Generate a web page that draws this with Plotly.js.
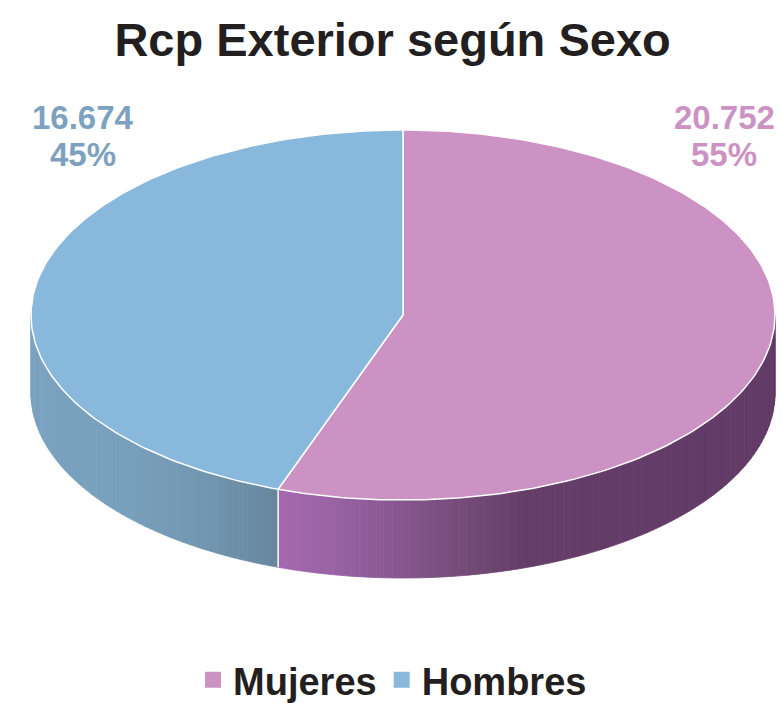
<!DOCTYPE html>
<html>
<head>
<meta charset="utf-8">
<script src="https://cdn.plot.ly/plotly-3.0.1.min.js"></script>
<style>html,body{margin:0;padding:0;background:#fff;}#chart{width:782px;height:703px;}</style>
</head>
<body>
<div id="chart"></div>
<script>
// ---- data ----
const categories = ['Mujeres', 'Hombres'];
const values = [20752, 16674];
const chartTitle = 'Rcp Exterior según Sexo';

// ---- style ----
const topColors = ['#CB92C3', '#88B9DD'];
const labelColors = ['#CB92C3', '#7DA2BF'];
const sideStops = [
  [[0, '#A568AF'], [0.1, '#9A63A5'], [0.25, '#86568E'], [0.38, '#744A77'], [0.5, '#653D69'], [1, '#623A66']],
  [[0, '#7AA2BF'], [0.4, '#789FBB'], [0.7, '#7297B0'], [1, '#66869D']]
];
const FONT = 'Liberation Sans, Arial, Helvetica, sans-serif';
const W = 782, H = 703;
const cx = 403, cy = 315, rx = 372, ry = 185, depth = 78;

function fmt(v) { return String(v).replace(/\B(?=(\d{3})+(?!\d))/g, '.'); }
function hex2rgb(h) { return [1, 3, 5].map(i => parseInt(h.substr(i, 2), 16)); }
function interp(stops, t) {
  for (let i = 0; i < stops.length - 1; i++) {
    const [t0, c0] = stops[i], [t1, c1] = stops[i + 1];
    if (t <= t1 || i === stops.length - 2) {
      const f = Math.max(0, Math.min(1, (t - t0) / (t1 - t0)));
      const a = hex2rgb(c0), b = hex2rgb(c1);
      const c = a.map((v, k) => Math.round(v + (b[k] - v) * f));
      return 'rgb(' + c.join(',') + ')';
    }
  }
}
const px = a => cx + rx * Math.sin(a);
const py = a => cy - ry * Math.cos(a);

const total = values.reduce((s, v) => s + v, 0);
let acc = 0;
const slices = values.map(v => { const a0 = acc; acc += v / total * 2 * Math.PI; return [a0, acc]; });

const traces = [];
const baseTrace = { type: 'scatter', mode: 'lines', fill: 'toself', showlegend: false, hoverinfo: 'skip' };

// side faces (front half only)
slices.forEach(([a0, a1], i) => {
  const s0 = Math.max(a0, Math.PI / 2), s1 = Math.min(a1, 3 * Math.PI / 2);
  if (s1 <= s0) return;
  const n = Math.max(4, Math.round((s1 - s0) / Math.PI * 140));
  const xA = Math.min(px(s0), px(s1)), xB = Math.max(px(s0), px(s1));
  for (let k = 0; k < n; k++) {
    const t1 = s0 + (s1 - s0) * k / n, t2 = s0 + (s1 - s0) * (k + 1) / n;
    const xm = (px(t1) + px(t2)) / 2;
    const f = (xm - xA) / (xB - xA);
    const col = interp(sideStops[i], f);
    traces.push(Object.assign({}, baseTrace, {
      x: [px(t1), px(t2), px(t2), px(t1), px(t1)],
      y: [py(t1), py(t2), py(t2) + depth, py(t1) + depth, py(t1)],
      fillcolor: col, line: { color: col, width: 0.8 }
    }));
  }
});
// white vertical seam on the side at slice boundaries
slices.forEach(([a0]) => {
  if (a0 > Math.PI / 2 && a0 < 3 * Math.PI / 2) {
    traces.push({ type: 'scatter', mode: 'lines', showlegend: false, hoverinfo: 'skip',
      x: [px(a0), px(a0)], y: [py(a0), py(a0) + depth], line: { color: '#ffffff', width: 1.5 } });
  }
});
// top faces
slices.forEach(([a0, a1], i) => {
  const n = Math.max(8, Math.round((a1 - a0) / (2 * Math.PI) * 360));
  const xs = [cx], ys = [cy];
  for (let k = 0; k <= n; k++) { const t = a0 + (a1 - a0) * k / n; xs.push(px(t)); ys.push(py(t)); }
  xs.push(cx); ys.push(cy);
  traces.push(Object.assign({}, baseTrace, {
    x: xs, y: ys, fillcolor: topColors[i], line: { color: '#ffffff', width: 1.5 }
  }));
});
// legend entries
categories.forEach((c, i) => {
  traces.push({ type: 'scatter', mode: 'markers', name: c, x: [null], y: [null],
    marker: { symbol: 'square', size: 16, color: topColors[i] }, showlegend: true, hoverinfo: 'skip' });
});

// value / percent labels
const labelPos = [{ x: 724, y1: 117, y2: 154 }, { x: 83, y1: 117, y2: 154 }];
const annotations = [];
values.forEach((v, i) => {
  const pct = Math.round(v / total * 100) + '%';
  const common = { xref: 'x', yref: 'y', showarrow: false, xanchor: 'center', yanchor: 'middle',
    font: { family: FONT, size: 33, color: labelColors[i] } };
  annotations.push(Object.assign({}, common, { x: labelPos[i].x, y: labelPos[i].y1, text: '<b>' + fmt(v) + '</b>' }));
  annotations.push(Object.assign({}, common, { x: labelPos[i].x, y: labelPos[i].y2, text: '<b>' + pct + '</b>' }));
});

const layout = {
  width: W, height: H,
  margin: { l: 0, r: 0, t: 0, b: 0, autoexpand: false },
  paper_bgcolor: '#ffffff', plot_bgcolor: '#ffffff',
  title: { text: '<b>' + chartTitle + '</b>', x: 0.502, xanchor: 'center', y: 1 - 40 / H, yanchor: 'middle',
    font: { family: FONT, size: 47, color: '#231F20' } },
  xaxis: { range: [0, W], visible: false, fixedrange: true },
  yaxis: { range: [H, 0], visible: false, fixedrange: true },
  showlegend: true,
  legend: { orientation: 'h', x: 0.502, xanchor: 'center', y: 1 - 680 / H, yanchor: 'middle',
    font: { family: FONT, size: 38, color: '#231F20', weight: 'bold' }, bgcolor: 'rgba(0,0,0,0)', itemclick: false },
  hovermode: false,
  annotations: annotations
};

Plotly.newPlot('chart', traces, layout, { displayModeBar: false, staticPlot: true });
</script>
</body>
</html>
